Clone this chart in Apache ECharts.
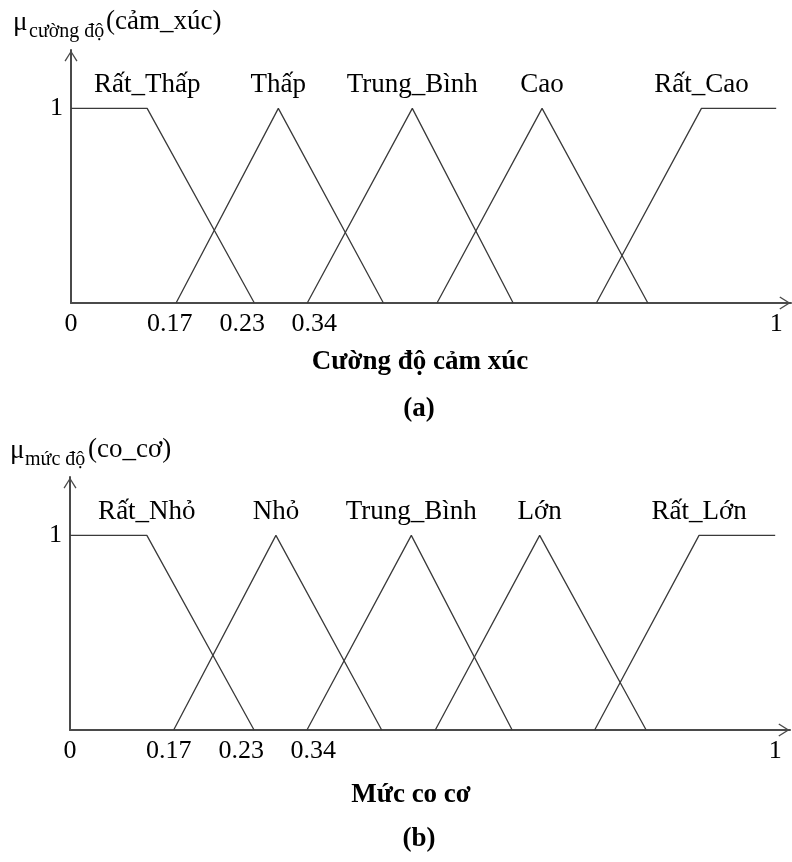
<!DOCTYPE html>
<html>
<head>
<meta charset="utf-8">
<script src="https://cdn.jsdelivr.net/npm/echarts@6/dist/echarts.min.js"></script>
<style>
html,body{margin:0;padding:0;background:#fff;}
#chart{width:792px;height:862px;}
</style>
</head>
<body>
<div id="chart"></div>
<script>
// ---- data (axis units: 0..1 along the universe, membership 0..1) ----
const setNamesA = ['Rất_Thấp', 'Thấp', 'Trung_Bình', 'Cao', 'Rất_Cao'];
const setNamesB = ['Rất_Nhỏ', 'Nhỏ', 'Trung_Bình', 'Lớn', 'Rất_Lớn'];

const veryLowA  = [[0, 1], [0.108, 1], [0.260, 0]];
const lowA      = [[0.149, 0], [0.294, 1], [0.443, 0]];
const mediumA   = [[0.335, 0], [0.484, 1], [0.627, 0]];
const highA     = [[0.519, 0], [0.668, 1], [0.818, 0]];
const veryHighA = [[0.745, 0], [0.894, 1], [1, 1]];

const verySmallB = [[0, 1], [0.109, 1], [0.261, 0]];
const smallB     = [[0.147, 0], [0.292, 1], [0.442, 0]];
const mediumB    = [[0.336, 0], [0.484, 1], [0.627, 0]];
const largeB     = [[0.518, 0], [0.666, 1], [0.817, 0]];
const veryLargeB = [[0.744, 0], [0.892, 1], [1, 1]];

// index of the point that carries each set's name
const labelPointIdx = [1, 1, 1, 1, 1];

const xTickLabels = ['0', '0.17', '0.23', '0.34', '1'];
const xTickAt     = [0, 0.14, 0.243, 0.345, 1];
const yTickLabels = ['1'];
const yTickAt     = [1];

const titleA = { mu: 'μ', sub: 'cường độ', main: '(cảm_xúc)', axis: 'Cường độ cảm xúc', tag: '(a)' };
const titleB = { mu: 'μ', sub: 'mức độ', main: '(co_cơ)', axis: 'Mức co cơ', tag: '(b)' };

// ---- styling ----
const FONT = '"Liberation Serif", "Times New Roman", serif';
const CURVE = '#3a3a3a';
const AXIS = '#4a4a4a';
const ARROW = 'path://M0,0 L7,11.2 L5.8,12 L0,2.6 L-5.8,12 L-7,11.2 Z';

function buildSeries(sets, names, gi) {
  return sets.map((pts, si) => ({
    type: 'line',
    name: names[si],
    xAxisIndex: gi, yAxisIndex: gi,
    data: pts.map((p, pi) => pi === labelPointIdx[si]
      ? { value: p, label: { show: true } }
      : { value: p }),
    symbol: 'circle', symbolSize: 1, showSymbol: true,
    itemStyle: { color: 'rgba(0,0,0,0)' },
    lineStyle: { color: CURVE, width: 1.3 },
    label: {
      show: false, position: 'top', distance: 9,
      formatter: names[si],
      fontFamily: FONT, fontSize: 27, color: '#000'
    },
    emphasis: { disabled: true },
    silent: true, z: 3
  }));
}

function xAxisCfg(gi) {
  return {
    gridIndex: gi, type: 'value', min: 0, max: 1.021,
    axisLine: { show: true, lineStyle: { color: AXIS, width: 2 },
      symbol: ['none', ARROW], symbolSize: [13, 12], symbolOffset: [0, -6] },
    axisTick: { show: false },
    splitLine: { show: false },
    axisLabel: {
      customValues: xTickAt,
      formatter: v => xTickLabels[xTickAt.indexOf(v)],
      fontFamily: FONT, fontSize: 26, color: '#000', margin: 8
    }
  };
}
function yAxisCfg(gi) {
  return {
    gridIndex: gi, type: 'value', min: 0, max: 1.3,
    axisLine: { show: true, lineStyle: { color: AXIS, width: 2 },
      symbol: ['none', ARROW], symbolSize: [13, 12], symbolOffset: [0, -6] },
    axisTick: { show: false },
    splitLine: { show: false },
    axisLabel: {
      customValues: yTickAt,
      formatter: v => yTickLabels[yTickAt.indexOf(v)],
      fontFamily: FONT, fontSize: 26, color: '#000', margin: 8,
      padding: [0, 0, 8, 0]
    }
  };
}

function titleSet(t, dy, xs) {
  const base = { padding: 0 };
  return [
    Object.assign({ text: t.mu, left: xs[0], top: 9 + dy, textStyle: { fontFamily: FONT, fontSize: 27, fontWeight: 'normal', color: '#000' } }, base),
    Object.assign({ text: t.sub, left: xs[1], top: 22 + dy, textStyle: { fontFamily: FONT, fontSize: 20, fontWeight: 'normal', color: '#000' } }, base),
    Object.assign({ text: t.main, left: xs[2], top: 8 + dy, textStyle: { fontFamily: FONT, fontSize: 27, fontWeight: 'normal', color: '#000' } }, base)
  ];
}

const option = {
  animation: false,
  backgroundColor: '#fff',
  title: [
    ...titleSet(titleA, 0, [13, 29, 106]),
    ...titleSet(titleB, 428, [10, 25, 88]),
    { text: titleA.axis, left: 420, textAlign: 'center', top: 349, padding: 0,
      textStyle: { fontFamily: FONT, fontSize: 27, fontWeight: 'bold', color: '#000' } },
    { text: titleA.tag, left: 419, textAlign: 'center', top: 396, padding: 0,
      textStyle: { fontFamily: FONT, fontSize: 27, fontWeight: 'bold', color: '#000' } },
    { text: titleB.axis, left: 411, textAlign: 'center', top: 782, padding: 0,
      textStyle: { fontFamily: FONT, fontSize: 27, fontWeight: 'bold', color: '#000' } },
    { text: titleB.tag, left: 419, textAlign: 'center', top: 826, padding: 0,
      textStyle: { fontFamily: FONT, fontSize: 27, fontWeight: 'bold', color: '#000' } }
  ],
  grid: [
    { left: 71, top: 50, width: 720, height: 253 },
    { left: 70, top: 477, width: 720, height: 253 }
  ],
  xAxis: [xAxisCfg(0), xAxisCfg(1)],
  yAxis: [yAxisCfg(0), yAxisCfg(1)],
  series: [
    ...buildSeries([veryLowA, lowA, mediumA, highA, veryHighA], setNamesA, 0),
    ...buildSeries([verySmallB, smallB, mediumB, largeB, veryLargeB], setNamesB, 1)
  ]
};

const chart = echarts.init(document.getElementById('chart'), null, { renderer: 'canvas' });
chart.setOption(option);
</script>
</body>
</html>
